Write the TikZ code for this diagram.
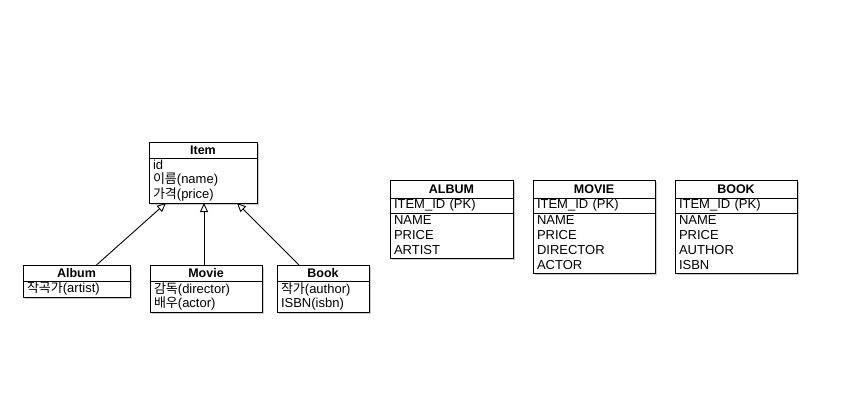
\documentclass[tikz,border=0pt]{standalone}
\usepackage{fontspec}
\setmainfont{Liberation Sans}
\newfontfamily\kr{Noto Sans CJK KR}
\usetikzlibrary{arrows.meta,shadows,positioning}
\tikzset{
  every picture/.style={line join=round},
  boxpart/.style={draw, fill=white, line width=0.8pt, inner xsep=4pt, inner ysep=0pt, outer sep=0pt,
    drop shadow={shadow xshift=1.6pt, shadow yshift=-1.6pt, opacity=0.4}},
  headbox/.style={boxpart, anchor=north west, font=\fontsize{12.5}{15}\selectfont\bfseries},
  fieldbox/.style={boxpart, anchor=north, align=left, font=\fontsize{13}{14.5}\selectfont},
  colbox/.style={boxpart, anchor=north, align=left, font=\fontsize{13}{15}\selectfont},
  extends/.style={line width=0.9pt, -{Triangle[open, length=9pt, width=8pt, fill=white]}},
}
\begin{document}
\begin{tikzpicture}[x=1pt,y=-1pt]
\useasboundingbox (0,0) rectangle (850,401);
% class diagram
\node[headbox, minimum width=108, minimum height=16] (item) at (149,142) {Item};
\node[fieldbox, minimum width=108, minimum height=45, text width=100] (itembody) at (item.south)
  {id\\{\kr 이름}(name)\\{\kr 가격}(price)};
\node[headbox, minimum width=107, minimum height=16] (album) at (23,265) {Album};
\node[fieldbox, minimum width=107, minimum height=16, text width=99, text height=9.5pt, text depth=3pt] (albumbody) at (album.south)
  {{\kr 작곡가}(artist)};
\node[headbox, minimum width=112, minimum height=16] (movie) at (150,265) {Movie};
\node[fieldbox, minimum width=112, minimum height=31, text width=104] (moviebody) at (movie.south)
  {{\kr 감독}(director)\\{\kr 배우}(actor)};
\node[headbox, minimum width=92, minimum height=16] (book) at (277,265) {Book};
\node[fieldbox, minimum width=92, minimum height=31, text width=84] (bookbody) at (book.south)
  {{\kr 작가}(author)\\ISBN(isbn)};
\draw[extends] ([xshift=20pt]album.north) -- ([xshift=17pt]itembody.south west);
\draw[extends] ([xshift=-2pt]movie.north) -- ([xshift=-2pt]movie.north |- itembody.south);
\draw[extends] ([xshift=-24pt]book.north) -- ([xshift=-20pt]itembody.south east);
% tables
\node[headbox, minimum width=123, minimum height=18] (talbum) at (390,180) {ALBUM};
\node[colbox, minimum width=123, minimum height=15, text width=115, text height=9pt, text depth=2.5pt] (talbumpk) at (talbum.south) {ITEM\_ID (PK)};
\node[colbox, minimum width=123, minimum height=45, text width=115] (talbumcols) at (talbumpk.south)
  {NAME\\PRICE\\ARTIST};
\node[headbox, minimum width=122, minimum height=18] (tmovie) at (533,180) {MOVIE};
\node[colbox, minimum width=122, minimum height=15, text width=114, text height=9pt, text depth=2.5pt] (tmoviepk) at (tmovie.south) {ITEM\_ID (PK)};
\node[colbox, minimum width=122, minimum height=60, text width=114] (tmoviecols) at (tmoviepk.south)
  {NAME\\PRICE\\DIRECTOR\\ACTOR};
\node[headbox, minimum width=122, minimum height=18] (tbook) at (675,180) {BOOK};
\node[colbox, minimum width=122, minimum height=15, text width=114, text height=9pt, text depth=2.5pt] (tbookpk) at (tbook.south) {ITEM\_ID (PK)};
\node[colbox, minimum width=122, minimum height=60, text width=114] (tbookcols) at (tbookpk.south)
  {NAME\\PRICE\\AUTHOR\\ISBN};
\end{tikzpicture}
\end{document}
